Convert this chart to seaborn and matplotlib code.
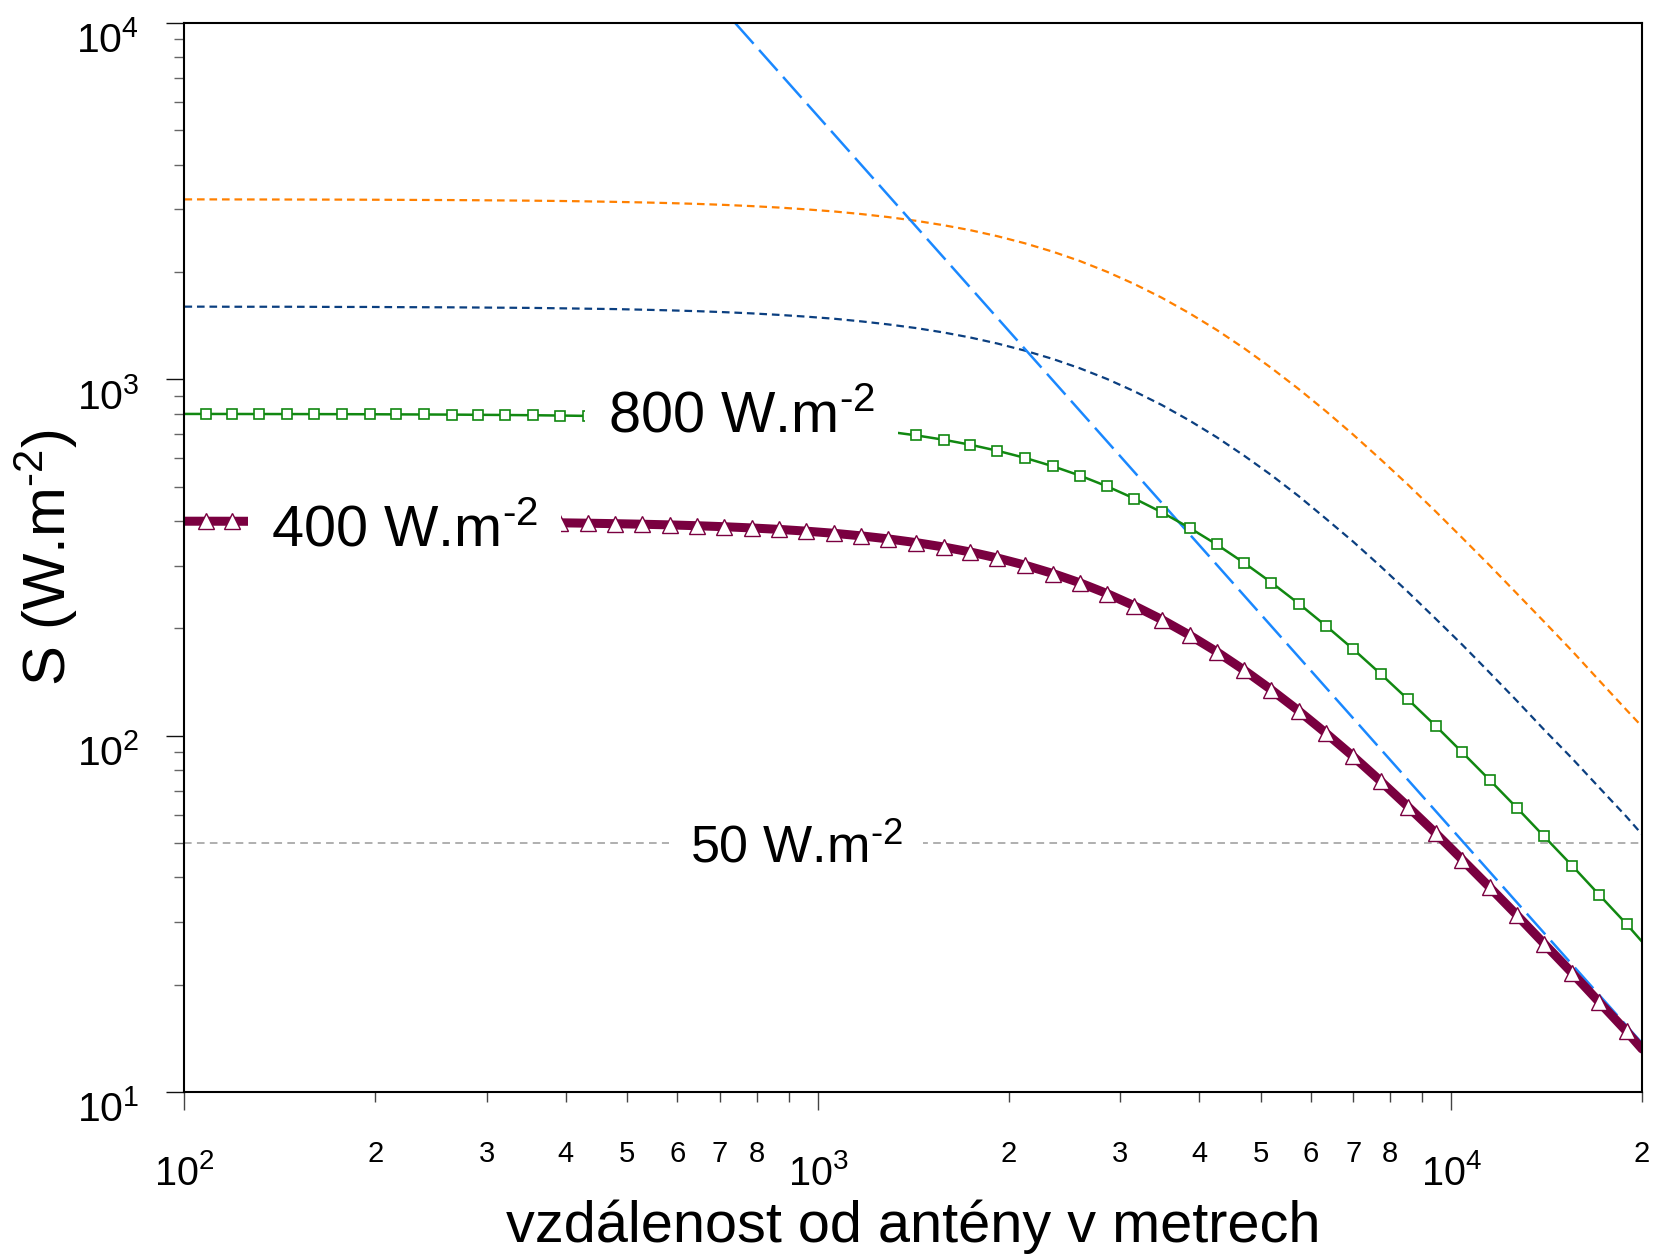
import matplotlib
matplotlib.use("Agg")
import matplotlib.pyplot as plt
import matplotlib.ticker as mticker
import matplotlib.transforms as mtransforms
import seaborn as sns

# ---------------- data ----------------
distance_m = [100, 108, 119, 131, 145, 160, 177, 196, 216, 239, 264, 291, 321, 355,
              392, 433, 478, 528, 584, 645, 712, 786, 869, 959, 1060, 1170, 1290,
              1430, 1580, 1740, 1920, 2120, 2350, 2590, 2860, 3160, 3490, 3860,
              4260, 4710, 5200, 5740, 6340, 7000, 7740, 8540, 9440, 10400, 11500,
              12700, 14000, 15500, 17100, 18900, 20000]

s_3200 = [3198, 3198, 3197, 3196, 3195, 3194, 3193, 3191, 3189, 3186, 3184, 3180,
          3176, 3171, 3165, 3157, 3147, 3136, 3122, 3106, 3086, 3062, 3033, 2998,
          2958, 2909, 2853, 2784, 2706, 2621, 2521, 2409, 2280, 2148, 2003, 1850,
          1694, 1532, 1376, 1221, 1075, 939, 813, 699, 595, 506, 426, 359, 300,
          250, 209, 173, 143, 118, 106]

s_1600 = [1599, 1599, 1598, 1598, 1598, 1597, 1596, 1596, 1594, 1593, 1592, 1590,
          1588, 1586, 1582, 1578, 1574, 1568, 1561, 1553, 1543, 1531, 1516, 1499,
          1479, 1454, 1426, 1392, 1353, 1310, 1260, 1204, 1140, 1074, 1002, 925,
          847, 766, 688, 610, 538, 470, 406, 350, 298, 253, 213, 180, 150, 125,
          104, 86.4, 71.6, 59.2, 52.8]

s_800 = [799.4, 799.4, 799.2, 799.0, 798.8, 798.6, 798.2, 797.8, 797.2, 796.6,
         796.0, 795.0, 794.0, 792.8, 791.2, 789.2, 786.8, 784.0, 780.6, 776.4,
         771.4, 765.4, 758.2, 749.6, 739.4, 727.2, 713.2, 696.0, 676.6, 655.2,
         630.2, 602.2, 570.0, 537.0, 500.8, 462.6, 423.4, 383.0, 344.0, 305.2,
         268.8, 234.8, 203.2, 174.8, 148.8, 126.4, 106.6, 89.8, 75.0, 62.6, 52.2,
         43.2, 35.8, 29.6, 26.4]

s_400 = [399.7, 399.7, 399.6, 399.5, 399.4, 399.3, 399.1, 398.9, 398.6, 398.3,
         398.0, 397.5, 397.0, 396.4, 395.6, 394.6, 393.4, 392.0, 390.3, 388.2,
         385.7, 382.7, 379.1, 374.8, 369.7, 363.6, 356.6, 348.0, 338.3, 327.6,
         315.1, 301.1, 285.0, 268.5, 250.4, 231.3, 211.7, 191.5, 172.0, 152.6,
         134.4, 117.4, 101.6, 87.4, 74.4, 63.2, 53.3, 44.9, 37.5, 31.3, 26.1,
         21.6, 17.9, 14.8, 13.2]

farfield_x = [740, 20000]
farfield_s = [10000, 13.7]

limit_x = [100, 20000]
limit_s = [50, 50]

x_major_ticks = [100, 1000, 10000]
x_major_labels = ["$10^{2}$", "$10^{3}$", "$10^{4}$"]
x_minor_ticks = [200, 300, 400, 500, 600, 700, 800, 900,
                 2000, 3000, 4000, 5000, 6000, 7000, 8000, 9000, 20000]
x_minor_labels = ["2", "3", "4", "5", "6", "7", "8", "",
                  "2", "3", "4", "5", "6", "7", "8", "", "2"]
y_major_ticks = [10, 100, 1000, 10000]
y_major_labels = ["$10^{1}$", "$10^{2}$", "$10^{3}$", "$10^{4}$"]
y_minor_ticks = [m * d for d in (10, 100, 1000) for m in range(2, 10)]

x_title = "vzdálenost od antény v metrech"
y_title = r"S (W.m$^{\text{-}2}$)"
label_800 = r"800 W.m$^{\text{-}2}$"
label_400 = r"400 W.m$^{\text{-}2}$"
label_50 = r"50 W.m$^{\text{-}2}$"

# ---------------- style ----------------
sns.set_theme(style="white")
plt.rcParams.update({
    "font.family": ["Liberation Sans", "DejaVu Sans"],
    "mathtext.fontset": "custom",
    "mathtext.rm": "Liberation Sans",
    "mathtext.it": "Liberation Sans:italic",
    "mathtext.bf": "Liberation Sans:bold",
    "lines.scale_dashes": False,
    "axes.edgecolor": "black",
    "axes.linewidth": 1.5,
    "text.color": "black",
    "axes.labelcolor": "black",
    "xtick.labelcolor": "black",
    "ytick.labelcolor": "black",
})

fig = plt.figure(figsize=(16.53, 12.54), dpi=100)
ax = fig.add_axes([0.1116, 0.1292, 0.8818, 0.8525])
ax.set_xscale("log")
ax.set_yscale("log")


def draw(x, y, color, lw):
    sns.lineplot(x=x, y=y, ax=ax, color=color, linewidth=lw,
                 estimator=None, sort=False)
    return ax.lines[-1]


ln = draw(distance_m, s_3200, "#ff8000", 1.6)
ln.set_dashes((5.5, 3.5))
ln = draw(distance_m, s_1600, "#0b3f80", 1.6)
ln.set_dashes((5.5, 3.5))
ln = draw(limit_x, limit_s, "#9a9a9a", 1.1)
ln.set_dashes((5.5, 3.8))
ln = draw(farfield_x, farfield_s, "#1a88ff", 1.8)
ln.set_dashes((20, 6))

ln = draw(distance_m, s_800, "#118811", 1.8)
ln.set_marker("s")
ln.set_markersize(7)
ln.set_markerfacecolor("white")
ln.set_markeredgecolor("#118811")
ln.set_markeredgewidth(1.2)
ln.set_markevery(slice(1, -1))

ln = draw(distance_m, s_400, "#7a0040", 6.5)
ln.set_marker("^")
ln.set_markersize(12)
ln.set_markerfacecolor("white")
ln.set_markeredgecolor("#7a0040")
ln.set_markeredgewidth(1.0)
ln.set_markevery(slice(1, -1))

box = dict(boxstyle="square,pad=0.4", fc="white", ec="none")
ax.text(466, 711, label_800, fontsize=41.5, color="black", ha="left",
        va="baseline", bbox=box, zorder=6)
ax.text(137, 340, label_400, fontsize=41.5, color="black", ha="left",
        va="baseline", bbox=box, zorder=6)
ax.text(628, 44, label_50, fontsize=37.5, color="black", ha="left",
        va="baseline", bbox=box, zorder=6)

ax.set_xlim(100, 20000)
ax.set_ylim(10, 10000)

ax.xaxis.set_major_locator(mticker.FixedLocator(x_major_ticks))
ax.xaxis.set_major_formatter(mticker.FixedFormatter(x_major_labels))
ax.xaxis.set_minor_locator(mticker.FixedLocator(x_minor_ticks))
ax.xaxis.set_minor_formatter(mticker.FixedFormatter(x_minor_labels))
ax.yaxis.set_major_locator(mticker.FixedLocator(y_major_ticks))
ax.yaxis.set_major_formatter(mticker.FixedFormatter(y_major_labels))
ax.yaxis.set_minor_locator(mticker.FixedLocator(y_minor_ticks))
ax.yaxis.set_minor_formatter(mticker.NullFormatter())

ax.tick_params(axis="x", which="major", direction="out", length=13, width=1.0,
               color="#444444", labelsize=28.5, pad=54, bottom=True,
               labelcolor="black")
ax.tick_params(axis="x", which="minor", direction="out", length=7.2, width=1.0,
               color="#444444", labelsize=21, pad=43, bottom=True,
               labelcolor="black")
ax.tick_params(axis="y", which="major", direction="out", length=13, width=1.0,
               color="#111111", labelsize=29.5, pad=19.5, left=True,
               labelcolor="black")
ax.tick_params(axis="y", which="minor", direction="out", length=7.2, width=1.0,
               color="#666666", left=True)

for lab in ax.get_xticklabels(which="both"):
    lab.set_verticalalignment("baseline")
shift = mtransforms.ScaledTranslation(0, -30 / 100, fig.dpi_scale_trans)
for lab in ax.get_yticklabels():
    lab.set_verticalalignment("baseline")
    lab.set_transform(lab.get_transform() + shift)

for sp in ax.spines.values():
    sp.set_visible(True)
    sp.set_color("black")
    sp.set_linewidth(1.5)

ax.set_xlabel(x_title, fontsize=41.5, color="black")
ax.xaxis.set_label_coords(0.5, -0.1403)
ax.xaxis.label.set_verticalalignment("baseline")
ax.set_ylabel(y_title, fontsize=43, color="black")
ax.yaxis.set_label_coords(-0.0717, 0.5)

fig.savefig("out.png", dpi=100)
